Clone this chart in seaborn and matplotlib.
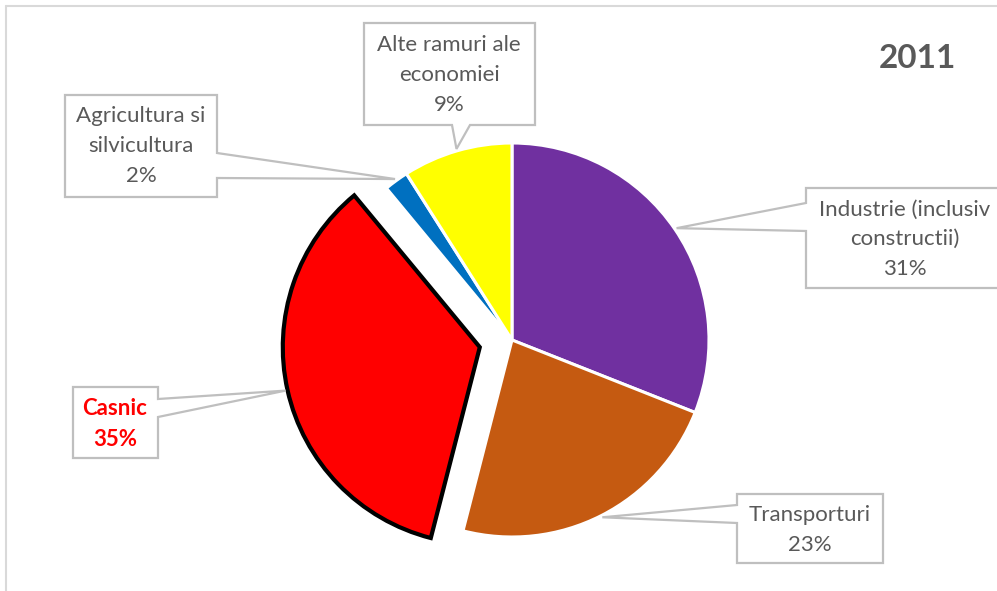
import numpy as np
import matplotlib
matplotlib.use("Agg")
import matplotlib.pyplot as plt
from matplotlib.patches import Polygon
import seaborn as sns

# Energy consumption by sector, 2011 (share of total)
sectors = ["Industrie (inclusiv\nconstructii)", "Transporturi", "Casnic",
           "Agricultura si\nsilvicultura", "Alte ramuri ale\neconomiei"]
shares = [31, 23, 35, 2, 9]
colors = ["#7030A0", "#C55A11", "#FF0000", "#0070C0", "#FFFF00"]
year_label = "2011"

sns.set_theme(style="white")
plt.rcParams["font.family"] = ["Lato", "DejaVu Sans"]

W, H = 997, 591
fig = plt.figure(figsize=(W / 100, H / 100), dpi=100)
ax = fig.add_axes([0, 0, 1, 1])
ax.set_xlim(0, W)
ax.set_ylim(0, H)
ax.set_aspect("equal")
ax.axis("off")


def Y(y):
    return H - y


# pie geometry (pixel space)
cx, cy, R = 512, Y(340), 197
explode = [0, 0, 33, 0, 0]

wedges, _ = ax.pie(shares, colors=colors, startangle=90, counterclock=False,
                   radius=R, center=(cx, cy), explode=explode,
                   wedgeprops=dict(edgecolor="white", linewidth=2.2))
ax.set_xlim(0, W)
ax.set_ylim(0, H)
casnic = wedges[2]
casnic.set_edgecolor("black")
casnic.set_linewidth(3)
casnic.set_zorder(3)

# chart frame
ax.plot([5.5, 5.5], [Y(5.5), 0], color="#D9D9D9", lw=1.5, clip_on=False)
ax.plot([5.5, W], [Y(5.5), Y(5.5)], color="#D9D9D9", lw=1.5, clip_on=False)


def tip_of(w, k=1.01):
    th = np.deg2rad(0.5 * (w.theta1 + w.theta2))
    x, y = w.center
    return x + k * w.r * np.cos(th), y + k * w.r * np.sin(th)


def callout(x0, y0, x1, y1, side, b1, b2, tip):
    X0, X1, T, B = x0, x1, Y(y0), Y(y1)
    pts = [(X0, T)]
    if side == "top":
        pts += [(b1, T), tip, (b2, T)]
    pts += [(X1, T)]
    if side == "right":
        pts += [(X1, Y(b1)), tip, (X1, Y(b2))]
    pts += [(X1, B)]
    if side == "bottom":
        pts += [(b2, B), tip, (b1, B)]
    pts += [(X0, B)]
    if side == "left":
        pts += [(X0, Y(b2)), tip, (X0, Y(b1))]
    ax.add_patch(Polygon(pts, closed=True, facecolor="white",
                         edgecolor="#BFBFBF", lw=1.6, zorder=4,
                         clip_on=False))


# (box, pointer side, pointer base, text centre) for each sector
boxes = [
    ((806, 188, 1003, 288), "left", (203, 231), (905, 239)),
    ((737, 494, 883, 563), "left", (505, 523), (810, 530)),
    ((73, 387, 158, 458), "right", (399, 417), (115, 424)),
    ((65, 95, 217, 197), "right", (153, 178), (141, 146)),
    ((364, 23, 535, 125), "bottom", (452, 470), (449, 75)),
]

for i, (w, (box, side, base, tc)) in enumerate(zip(wedges, boxes)):
    callout(*box, side, *base, tip_of(w))
    label = f"{sectors[i]}\n{shares[i]}%"
    if i == 2:
        ax.text(tc[0], Y(tc[1]), label, ha="center", va="center",
                fontsize=16, color="#FF0000", fontweight="bold",
                linespacing=1.55, zorder=5)
    else:
        ax.text(tc[0], Y(tc[1]), label, ha="center", va="center",
                fontsize=16, color="#595959", linespacing=1.6, zorder=5)

ax.text(917, Y(58), year_label, ha="center", va="center", fontsize=24,
        fontweight="bold", color="#595959")

fig.savefig("out.png", dpi=100)
